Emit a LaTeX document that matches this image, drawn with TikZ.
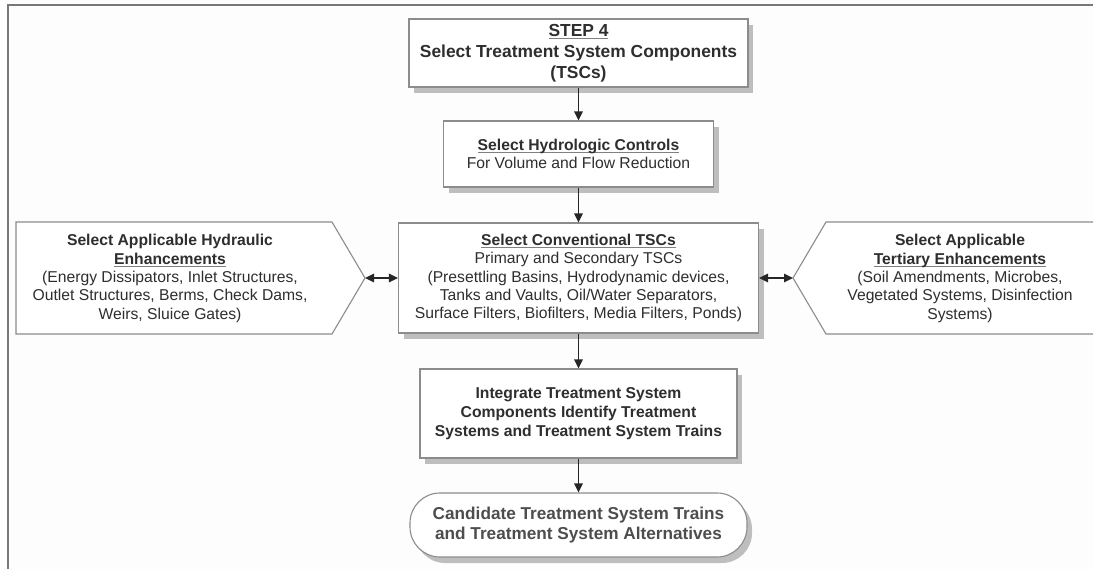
\documentclass[tikz,border=0pt]{standalone}
\usepackage{fontspec}
\setmainfont{Liberation Sans}
\usetikzlibrary{arrows.meta,shadows}

\definecolor{ink}{HTML}{2E2E2E}
\definecolor{edge}{HTML}{8C8C8C}
\definecolor{shade}{HTML}{BEBEBE}
\definecolor{framecol}{HTML}{777777}
\definecolor{ulcol}{HTML}{808080}
\definecolor{paper}{HTML}{FDFDFD}

% underline drawn as a thin rule just below the baseline
\newcommand\ulk[1]{\setbox0\hbox{#1}\leavevmode\rlap{\textcolor{ulcol}{\rule[-2.4pt]{\wd0}{0.9pt}}}\box0}

\newcommand\fsTitle{\fontsize{17.4}{21}\selectfont}
\newcommand\fsBody{\fontsize{15.7}{18.3}\selectfont}
\newcommand\fsMid{\fontsize{15.7}{19}\selectfont}
\newcommand\fsEnd{\fontsize{17.2}{20}\selectfont}

\tikzset{
  box/.style={draw=edge, line width=1.1pt, fill=white, inner sep=0pt,
              align=center, text=ink},
  shadowbox/.style={drop shadow={shadow xshift=5pt, shadow yshift=-6pt,
              fill=shade, opacity=1}},
  label/.style={align=center, text=ink, inner sep=0pt, font=\fsBody},
  sidebox/.style={draw=edge, line width=1.1pt, fill=white},
  conn/.style={draw=black!85, line width=1.3pt},
  tip/.style={-{Triangle[length=9pt,width=8.5pt]}},
  twotip/.style={{Triangle[length=9pt,width=8.5pt]}-{Triangle[length=9pt,width=8.5pt]}}
}

\begin{document}
\begin{tikzpicture}[x=1pt,y=-1pt]
\useasboundingbox (0,0) rectangle (1093,569);
\fill[paper] (0,0) rectangle (1093,569);

% page frame (top and left rules only)
\draw[framecol, line width=1.2pt] (8,569) -- (8,5) -- (1093,5);

% central column
\node[box, shadowbox, minimum width=339pt, minimum height=68pt, font=\fsTitle]
  (step) at (578.5,53)
  {\ulk{\textbf{STEP 4}}\\\textbf{Select Treatment System Components}\\\textbf{(TSCs)}};

\node[box, shadowbox, minimum width=270pt, minimum height=66pt, font=\fsBody]
  (hydro) at (578.5,154)
  {\ulk{\textbf{Select Hydrologic Controls}}\\For Volume and Flow Reduction};

\node[box, shadowbox, minimum width=360pt, minimum height=110pt, font=\fsBody]
  (conv) at (578.5,278)
  {\ulk{\textbf{Select Conventional TSCs}}\\Primary and Secondary TSCs\\
   (Presettling Basins, Hydrodynamic devices,\\
   Tanks and Vaults, Oil/Water Separators,\\
   Surface Filters, Biofilters, Media Filters, Ponds)};

\node[box, shadowbox, minimum width=317pt, minimum height=89pt, font=\fsMid]
  (integ) at (578.5,413.5)
  {\textbf{Integrate Treatment System}\\\textbf{Components Identify Treatment}\\
   \textbf{Systems and Treatment System Trains}};

\node[box, shadowbox, rounded corners=30pt, minimum width=337pt, minimum height=64pt,
  font=\fsEnd, text=ink!85]
  (cand) at (578.5,525)
  {\textbf{Candidate Treatment System Trains}\\\textbf{and Treatment System Alternatives}};

% side panels
\draw[sidebox] (16,222) -- (332,222) -- (365,278) -- (332,334) -- (16,334) -- cycle;
\coordinate (ltip) at (365,278);
\node[label] (hyd) at (170,278.5)
  {\textbf{Select Applicable Hydraulic}\\\ulk{\textbf{Enhancements}}\\
   (Energy Dissipators, Inlet Structures,\\
   Outlet Structures, Berms, Check Dams,\\
   Weirs, Sluice Gates)};

\filldraw[sidebox] (1093,222) -- (826,222) -- (793,278) -- (826,334) -- (1093,334);
\coordinate (rtip) at (793,278);
\node[label] (ter) at (960,278.5)
  {\textbf{Select Applicable}\\\ulk{\textbf{Tertiary Enhancements}}\\
   (Soil Amendments, Microbes,\\
   Vegetated Systems, Disinfection\\
   Systems)};

% connectors
\draw[conn, tip] (step.south) -- (hydro.north);
\draw[conn, tip] (hydro.south) -- (conv.north);
\draw[conn, tip] (conv.south) -- (integ.north);
\draw[conn, tip] (integ.south) -- (cand.north);
\draw[conn, twotip] (ltip) -- (conv.west);
\draw[conn, twotip] (conv.east) -- (rtip);
\end{tikzpicture}
\end{document}
